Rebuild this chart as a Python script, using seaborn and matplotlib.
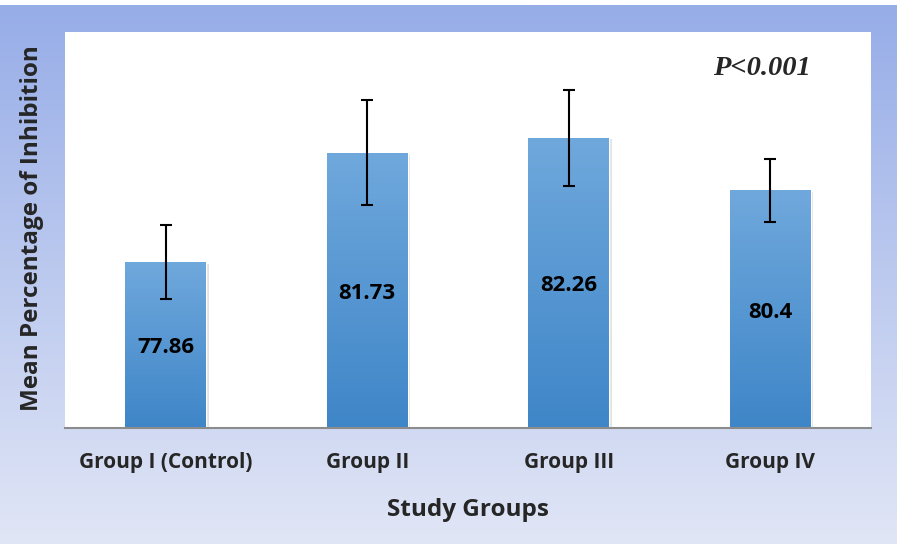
import numpy as np
import pandas as pd
import matplotlib
matplotlib.use('Agg')
import matplotlib.pyplot as plt
import matplotlib.patheffects as pe
from matplotlib.colors import LinearSegmentedColormap
import seaborn as sns

# data
groups = ['Group I (Control)', 'Group II', 'Group III', 'Group IV']
means = [77.86, 81.73, 82.26, 80.4]
sds = [1.31, 1.86, 1.70, 1.11]
value_labels = ['77.86', '81.73', '82.26', '80.4']
y_min, y_max = 72, 86

df = pd.DataFrame({'group': groups, 'mean': means, 'sd': sds})

sns.set_style('white')
plt.rcParams['font.family'] = ['Open Sans', 'DejaVu Sans']

fig = plt.figure(figsize=(9.06, 5.44), dpi=100)
fig.patch.set_facecolor('white')

# blue gradient panel behind the chart
bg = fig.add_axes([0, 0, 897 / 906, 539 / 544], zorder=0)
bg_cmap = LinearSegmentedColormap.from_list('bg', ['#97ADE8', '#E1E6F6'])
bg.imshow(np.linspace(0, 1, 256).reshape(-1, 1), aspect='auto', cmap=bg_cmap,
          extent=[0, 1, 0, 1])
bg.axis('off')

ax = fig.add_axes([65 / 906, 116 / 544, 806 / 906, 396 / 544], zorder=1)
ax.set_facecolor('white')
sns.barplot(data=df, x='group', y='mean', ax=ax, width=0.4, color='#5597D3',
            saturation=1, zorder=2)

# vertical gradient + soft shadow on each bar
bar_cmap = LinearSegmentedColormap.from_list('bar', ['#3F86C8', '#6FA8DC'])
for p in ax.patches:
    x0, w = p.get_x(), p.get_width()
    top = p.get_y() + p.get_height()
    p.set_path_effects([pe.SimplePatchShadow(offset=(2, -1), shadow_rgbFace='#909090', alpha=0.25),
                        pe.Normal()])
    im = ax.imshow(np.linspace(1, 0, 100).reshape(-1, 1), cmap=bar_cmap, vmin=0, vmax=1,
                   aspect='auto', extent=[x0, x0 + w, y_min, top], zorder=2.5)
    im.set_clip_path(p)

xs = [p.get_x() + p.get_width() / 2 for p in ax.patches]
ax.errorbar(xs, df['mean'], yerr=df['sd'], fmt='none', ecolor='black',
            elinewidth=1.5, capsize=4, capthick=1.5, zorder=3)

for x, m, lab in zip(xs, means, value_labels):
    ax.text(x, (y_min + m) / 2 - 0.1, lab, ha='center', va='center',
            fontsize=16, fontweight='bold', color='black', zorder=4)

ax.text(0.865, 0.9066, 'P<0.001', transform=ax.transAxes, ha='center', va='center',
        fontsize=20.5, fontweight='bold', fontstyle='italic',
        family=['Liberation Serif', 'DejaVu Serif'])

ax.set_xlim(-0.5, 3.5)
ax.set_ylim(y_min, y_max)
ax.set_yticks([])
for s in ['top', 'right', 'left']:
    ax.spines[s].set_visible(False)
ax.spines['bottom'].set_color('#8C8C8C')
ax.spines['bottom'].set_linewidth(1.5)
ax.tick_params(axis='x', length=0, pad=17, labelsize=15)
for t in ax.get_xticklabels():
    t.set_fontweight('bold')

ax.set_xlabel('Study Groups', fontsize=17.5, fontweight='bold')
ax.xaxis.label.set_va('center')
ax.xaxis.set_label_coords(0.5, -0.207)
ax.set_ylabel('Mean Percentage of Inhibition', fontsize=17.5, fontweight='bold')
ax.yaxis.label.set_va('center')
ax.yaxis.set_label_coords(-0.041, 0.506)

fig.savefig('out.png', dpi=100)
